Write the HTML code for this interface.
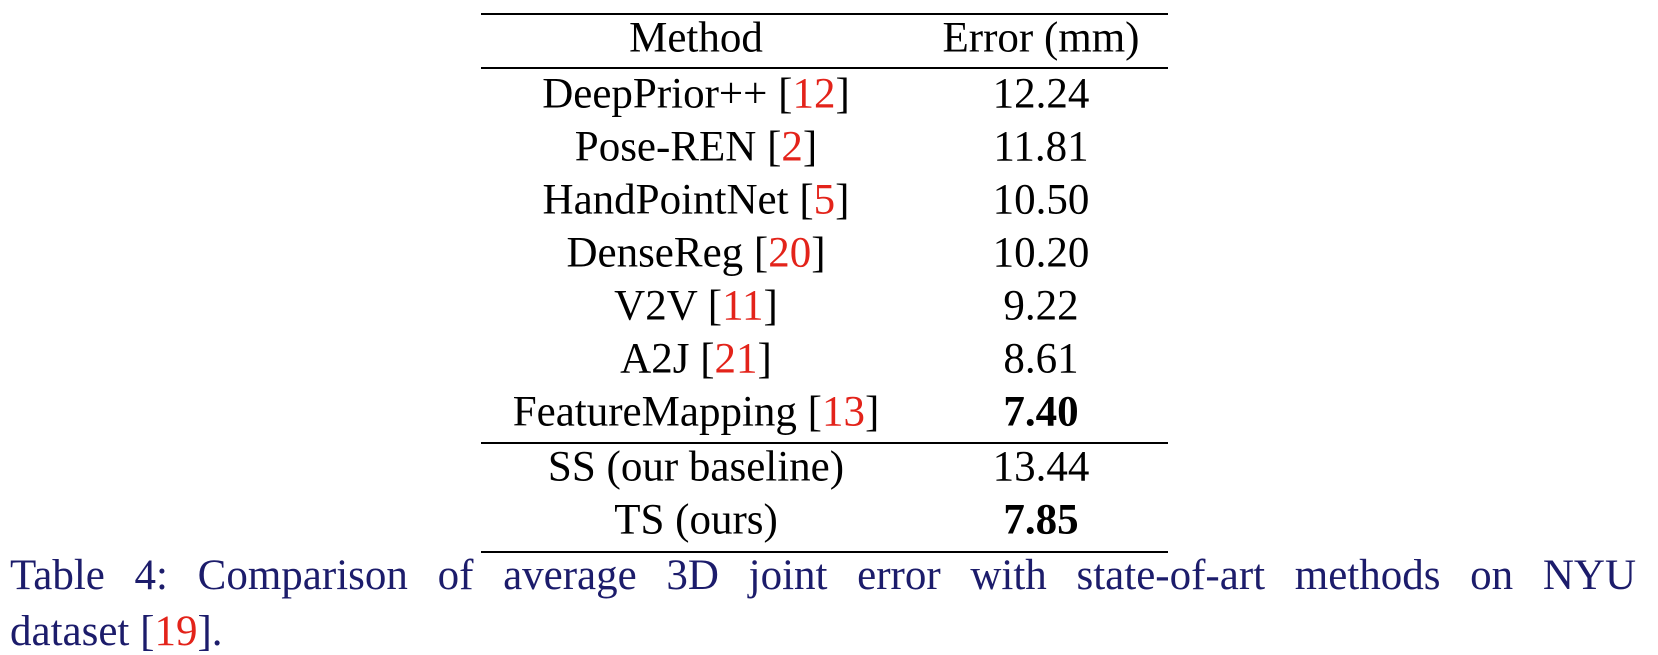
<!DOCTYPE html>
<html><head><meta charset="utf-8"><style>
body{margin:0;width:1658px;height:654px;background:#fff;overflow:hidden;font-family:"Liberation Serif",serif;position:relative}
.r{position:absolute;left:481px;width:687px;height:2px;background:#000}
.c{position:absolute;font-size:43px;line-height:43px;white-space:nowrap;transform:translate(-50%,-50%)}
.red{color:#e3231a}
.cap{position:absolute;left:10px;width:1626px;font-size:43px;line-height:43px;color:#1c1c6b;text-align:justify;text-align-last:justify;white-space:nowrap}
</style></head><body>
<div class="r" style="top:13px"></div>
<div class="r" style="top:67px"></div>
<div class="r" style="top:442px"></div>
<div class="r" style="top:551px"></div>
<div class="c" style="left:696px;top:38px">Method</div>
<div class="c" style="left:1041px;top:38px">Error (mm)</div>
<div class="c" style="left:696px;top:94px">DeepPrior++ [<span class="red">12</span>]</div>
<div class="c" style="left:1041px;top:94px">12.24</div>
<div class="c" style="left:696px;top:147px">Pose-REN [<span class="red">2</span>]</div>
<div class="c" style="left:1041px;top:147px">11.81</div>
<div class="c" style="left:696px;top:200px">HandPointNet [<span class="red">5</span>]</div>
<div class="c" style="left:1041px;top:200px">10.50</div>
<div class="c" style="left:696px;top:253px">DenseReg [<span class="red">20</span>]</div>
<div class="c" style="left:1041px;top:253px">10.20</div>
<div class="c" style="left:696px;top:306px">V2V [<span class="red">11</span>]</div>
<div class="c" style="left:1041px;top:306px">9.22</div>
<div class="c" style="left:696px;top:359px">A2J [<span class="red">21</span>]</div>
<div class="c" style="left:1041px;top:359px">8.61</div>
<div class="c" style="left:696px;top:412px">FeatureMapping [<span class="red">13</span>]</div>
<div class="c" style="left:1041px;top:412px;font-weight:bold">7.40</div>
<div class="c" style="left:696px;top:467px">SS (our baseline)</div>
<div class="c" style="left:1041px;top:467px">13.44</div>
<div class="c" style="left:696px;top:520px">TS (ours)</div>
<div class="c" style="left:1041px;top:520px;font-weight:bold">7.85</div>
<div class="cap" style="top:554px">Table 4: Comparison of average 3D joint error with state-of-art methods on NYU</div>
<div class="cap" style="top:610px;text-align-last:left">dataset [<span class="red">19</span>].</div>
</body></html>
